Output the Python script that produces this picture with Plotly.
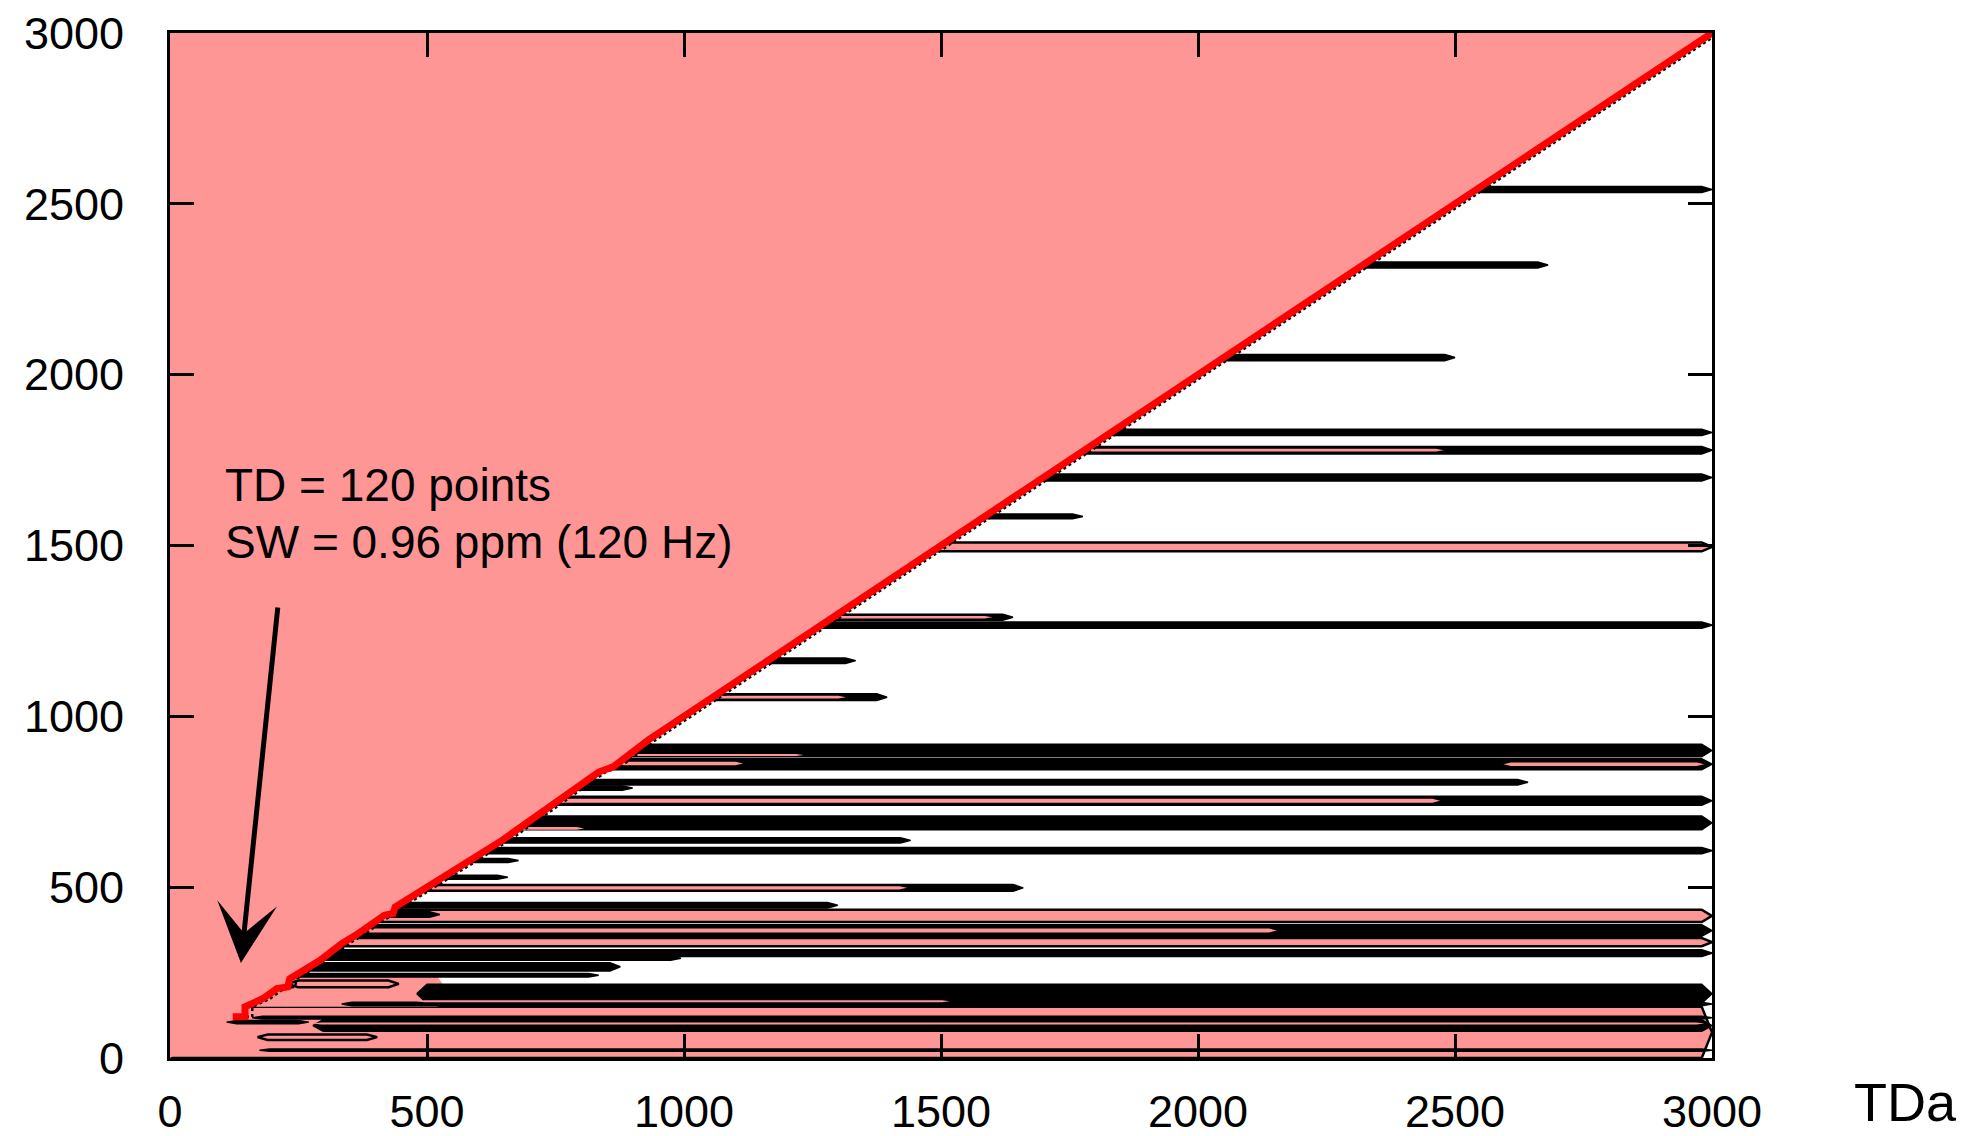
import plotly.graph_objects as go

PINK = "#FF9696"

# ---- data ----
x_ticks = [0, 500, 1000, 1500, 2000, 2500, 3000]
y_ticks = [0, 500, 1000, 1500, 2000, 2500, 3000]

# contour bands below the diagonal: centre level, start, end, half width, fill (k=black, p=pink outlined, q=pink plain)
band_y    = [75, 195, 2542, 2321, 2050, 1831, 1779, 1699, 1585, 1496, 1290, 1267, 1163, 1056,
             900, 860, 807, 790, 753, 688, 637, 607, 578, 529, 498, 447, 416, 420, 373, 339, 307,
             292, 267, 242, 217, 188, 158, 118, 95, 61, 23, 105]
band_x0   = [-30, 100, 2480, 2260, 1990, 1770, 1720, 1640, 1525, 1440, 1230, 1210, 1100, 1000,
             840, 800, 750, 730, 690, 630, 580, 550, 520, 470, 440, 390, 360, 360, 310, 280, 250,
             235, 210, 185, 229, 480, 334, 160, 278, 170, 174, 110]
band_x1   = [3000, 540, 3000, 2681, 2500, 3000, 3000, 3000, 1776, 3000, 1640, 3000, 1334, 1395,
             3000, 3000, 2642, 900, 3000, 3000, 1441, 3000, 678, 657, 1660, 1299, 3000, 525, 3000, 3000, 3000,
             994, 876, 834, 445, 3000, 3000, 3000, 3000, 403, 3000, 270]
band_hw   = [75, 45, 9, 9, 9, 9, 11, 10, 7, 13, 9, 9, 8, 10,
             18, 16, 8, 6, 13, 20, 8, 9, 6, 6, 10, 8, 18, 8, 17, 12, 10,
             6, 12, 5, 10, 28, 5, 4, 17, 8, 3, 5]
band_fill = ["p", "q", "k", "k", "k", "k", "k", "k", "k", "p", "k", "k", "k", "k",
             "k", "k", "k", "k", "k", "k", "k", "k", "k", "k", "k", "k", "p", "k", "k", "p", "k",
             "k", "k", "k", "p", "k", "k", "k", "k", "p", "k", "k"]

# pink cores running inside the black bands
inner_y  = [1779, 1290, 1056, 887, 862, 860, 753, 672, 498, 373, 166, 101]
inner_x0 = [1720, 1230, 1000, 840, 800, 2594, 690, 630, 440, 310, 480, 278]
inner_x1 = [2478, 1600, 1315, 1233, 1115, 2985, 2471, 806, 1434, 2153, 1517, 2985]
inner_hw = [4, 4, 4, 3, 5, 5, 6, 4, 5, 6, 3, 3]

# red boundary contour (staircase along the diagonal)
red_x = [122, 146, 146, 181, 208, 229, 233, 292, 334, 361, 417, 434, 438, 486, 646, 834, 862, 931, 3000]
red_y = [121, 121, 150, 174, 203, 208, 232, 286, 335, 359, 418, 423, 442, 486, 637, 837, 852, 931, 3000]


def band_shape(y, x0, x1, h, tip=20):
    xs = [x0, x0 + tip, x1 - tip, x1, x1 - tip, x0 + tip, x0]
    ys = [y, y - h, y - h, y, y + h, y + h, y]
    return xs, ys


fig = go.Figure()

for y, x0, x1, h, f in zip(band_y, band_x0, band_x1, band_hw, band_fill):
    xs, ys = band_shape(y, x0, x1, h)
    if f == "k":
        fc, lc, lw = "black", "black", 1.5
    elif f == "p":
        fc, lc, lw = PINK, "black", 2.5
    else:
        fc, lc, lw = PINK, PINK, 0
    fig.add_trace(go.Scatter(x=xs, y=ys, mode="lines", fill="toself", fillcolor=fc,
                             line=dict(color=lc, width=lw), hoverinfo="skip"))

for y, x0, x1, h in zip(inner_y, inner_x0, inner_x1, inner_hw):
    xs, ys = band_shape(y, x0, x1, h, tip=15)
    fig.add_trace(go.Scatter(x=xs, y=ys, mode="lines", fill="toself", fillcolor=PINK,
                             line=dict(color=PINK, width=0), hoverinfo="skip"))

# pink region above the diagonal
tri_x = [0] + red_x + [0]
tri_y = [0] + red_y + [3000]
fig.add_trace(go.Scatter(x=tri_x, y=tri_y, mode="lines", fill="toself", fillcolor=PINK,
                         line=dict(color=PINK, width=0), hoverinfo="skip"))

# black dashed edge just below the red contour
fig.add_trace(go.Scatter(x=[v + 14 for v in red_x], y=red_y, mode="lines",
                         line=dict(color="black", width=2.5, dash="dot"), hoverinfo="skip"))
fig.add_trace(go.Scatter(x=red_x, y=red_y, mode="lines",
                         line=dict(color="#FF0000", width=7), hoverinfo="skip"))

axis_common = dict(range=[0, 3000], ticks="inside", ticklen=24, tickwidth=3, tickcolor="black",
                   showline=True, linewidth=3, linecolor="black", mirror="ticks",
                   showgrid=False, zeroline=False, automargin=False,
                   tickfont=dict(family="Liberation Sans, Arial, sans-serif", size=45, color="black"))

fig.update_xaxes(tickvals=x_ticks, ticktext=[str(v) for v in x_ticks], ticklabelstandoff=12, **axis_common)
fig.update_yaxes(tickvals=y_ticks, ticktext=[str(v) for v in y_ticks], ticklabelstandoff=34, **axis_common)

fig.update_layout(
    width=1979, height=1136,
    margin=dict(l=170, r=267, t=33, b=78),
    plot_bgcolor="white", paper_bgcolor="white",
    showlegend=False,
    font=dict(family="Liberation Sans, Arial, sans-serif", size=45, color="black"),
)

fig.add_annotation(x=103, y=1677, xref="x", yref="y", text="TD = 120 points", showarrow=False,
                   xanchor="left", yanchor="middle",
                   font=dict(family="Liberation Sans, Arial, sans-serif", size=46, color="black"))
fig.add_annotation(x=103, y=1510, xref="x", yref="y", text="SW = 0.96 ppm (120 Hz)", showarrow=False,
                   xanchor="left", yanchor="middle",
                   font=dict(family="Liberation Sans, Arial, sans-serif", size=46, color="black"))
fig.add_annotation(x=138, y=278, xref="x", yref="y", ax=210, ay=1323, axref="x", ayref="y",
                   text="", showarrow=True, arrowhead=3, arrowwidth=5, arrowsize=2.0,
                   arrowcolor="black")
fig.add_annotation(x=1.1255, y=-0.0429, xref="paper", yref="paper", text="TDa", showarrow=False,
                   xanchor="center", yanchor="middle",
                   font=dict(family="Liberation Sans, Arial, sans-serif", size=54, color="black"))

fig.write_html("out.html")
